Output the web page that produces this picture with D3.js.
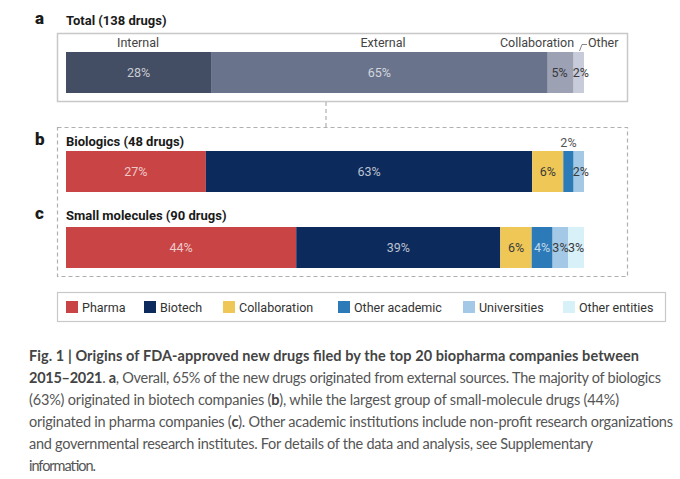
<!DOCTYPE html>
<html>

<head>
    <title>Origins of FDA-approved new drugs</title>
    <script src="https://cdnjs.cloudflare.com/ajax/libs/d3/7.8.5/d3.min.js"></script>
    <style>
        body { margin: 0; background: #fff; }
        svg text { font-family: Roboto, "Liberation Sans", sans-serif; }
        svg text.caption { font-family: Lato, sans-serif; fill: #555; font-size: 14.5px; }
    </style>
</head>

<body>
    <div id="chart"></div>
    <script>
        // Panel a: totals
        const totalCats = ["Internal", "External", "Collaboration", "Other"];
        const totalVals = [28, 65, 5, 2];
        const totalColors = ["#434d63", "#69748c", "#9ca1b4", "#c8cbd9"];

        // Panels b & c: source breakdown
        const sources = ["Pharma", "Biotech", "Collaboration", "Other academic", "Universities", "Other entities"];
        const sourceColors = ["#c94545", "#0d2a5c", "#efc757", "#2d7ab8", "#a3c9e6", "#d8f0f8"];
        const biologicsVals = [27, 63, 6, 2, 2, 0];
        const smallMolVals = [44, 39, 6, 4, 3, 3];

        const panelTitles = ["Total (138 drugs)", "Biologics (48 drugs)", "Small molecules (90 drugs)"];
        const panelLetters = ["a", "b", "c"];

        const captionLines = [
            [["Fig. 1 | Origins of FDA-approved new drugs filed by the top 20 biopharma companies between", true]],
            [["2015–2021", true], [". ", false], ["a", true], [", Overall, 65% of the new drugs originated from external sources. The majority of biologics", false]],
            [["(63%) originated in biotech companies (", false], ["b", true], ["), while the largest group of small-molecule drugs (44%)", false]],
            [["originated in pharma companies (", false], ["c", true], ["). Other academic institutions include non-profit research organizations", false]],
            [["and governmental research institutes. For details of the data and analysis, see Supplementary", false]],
            [["information.", false]]
        ];
        // right edge of each caption line in the reference
        const captionEnds = [639, 661, 619, 673, 593, 96];

        const W = 680, H = 479;
        const svg = d3.select("#chart").append("svg")
            .attr("width", W)
            .attr("height", H);

        const barX0 = 66, barX1 = 584, barH = 41;
        const darkText = "#3a3a3a";

        // Boxes
        svg.append("rect")
            .attr("x", 57.5).attr("y", 33.5).attr("width", 570).attr("height", 68)
            .attr("fill", "none").attr("stroke", "#c8c8c8").attr("stroke-width", 1.5);
        svg.append("rect")
            .attr("x", 57.5).attr("y", 127.5).attr("width", 570).attr("height", 149)
            .attr("fill", "none").attr("stroke", "#b0b0b0").attr("stroke-width", 1.2)
            .attr("stroke-dasharray", "4,3");
        svg.append("line")
            .attr("x1", 326).attr("x2", 326).attr("y1", 102).attr("y2", 127)
            .attr("stroke", "#b0b0b0").attr("stroke-width", 1.2).attr("stroke-dasharray", "4,3");

        // Panel letters and titles
        const titleY = [25, 146, 220];
        panelLetters.forEach((l, i) => {
            svg.append("text").attr("x", 35).attr("y", titleY[i] - 1)
                .attr("font-size", 17).attr("font-weight", 900).attr("fill", "#1a1a1a").text(l);
            svg.append("text").attr("x", 66).attr("y", titleY[i])
                .attr("font-size", 13).attr("font-weight", 700).attr("fill", "#1a1a1a").text(panelTitles[i]);
        });

        // labelFill null = no label inside the segment
        function drawBar(vals, colors, y, labelFill, labelDx) {
            const x = d3.scaleLinear().domain([0, d3.sum(vals)]).range([barX0, barX1]);
            const starts = d3.cumsum([0].concat(vals));
            const segs = vals.map((v, i) => ({ v, i, s: starts[i], e: starts[i] + v }))
                .filter(d => d.v > 0);
            const g = svg.append("g");
            g.selectAll("rect").data(segs).enter().append("rect")
                .attr("x", d => x(d.s))
                .attr("y", y)
                .attr("width", d => x(d.e) - x(d.s))
                .attr("height", barH)
                .attr("fill", d => colors[d.i]);
            g.selectAll("text").data(segs.filter(d => labelFill[d.i])).enter().append("text")
                .attr("x", d => (x(d.s) + x(d.e)) / 2 + (labelDx[d.i] || 0))
                .attr("y", y + barH / 2 + 4.5)
                .attr("text-anchor", "middle")
                .attr("font-size", 12.5)
                .attr("fill", d => labelFill[d.i])
                .attr("fill-opacity", d => labelFill[d.i] === "#fff" ? 0.72 : 1)
                .text(d => d.v + "%");
            return { x, starts, g };
        }

        // Panel a
        drawBar(totalVals, totalColors, 52, ["#fff", "#fff", darkText, darkText], [0, 0, -1, 2]);
        const catX = [138, 383, 537];
        totalCats.slice(0, 3).forEach((c, i) => {
            svg.append("text").attr("x", catX[i]).attr("y", 47)
                .attr("text-anchor", "middle").attr("font-size", 12.5).attr("fill", "#444").text(c);
        });
        svg.append("path")
            .attr("d", "M579.5,51 L582,44.5 L587,44.5")
            .attr("fill", "none").attr("stroke", "#777").attr("stroke-width", 0.9);
        svg.append("text").attr("x", 588).attr("y", 47)
            .attr("font-size", 12.5).attr("fill", "#444").text(totalCats[3]);

        // Panel b
        const b = drawBar(biologicsVals, sourceColors, 151,
            ["#fff", "#fff", darkText, null, darkText, darkText], [0, 0, 0, 0, 2, 0]);
        // Other academic label sits above the bar
        svg.append("text")
            .attr("x", (b.x(b.starts[3]) + b.x(b.starts[4])) / 2)
            .attr("y", 147).attr("text-anchor", "middle")
            .attr("font-size", 12.5).attr("fill", "#555").text(biologicsVals[3] + "%");

        // Panel c
        drawBar(smallMolVals, sourceColors, 227,
            ["#fff", "#fff", darkText, "#fff", darkText, darkText], [0, 0, 0, 0, 0, 0]);

        // Legend
        svg.append("rect")
            .attr("x", 57.5).attr("y", 292.5).attr("width", 608).attr("height", 29)
            .attr("fill", "none").attr("stroke", "#c8c8c8").attr("stroke-width", 1.2);
        const legX = [66, 144, 223, 338, 463, 563];
        const leg = svg.selectAll(".leg").data(sources).enter().append("g")
            .attr("transform", (d, i) => `translate(${legX[i]},301)`);
        leg.append("rect").attr("width", 12).attr("height", 12)
            .attr("fill", (d, i) => sourceColors[i]);
        leg.append("text").attr("x", 16).attr("y", 11)
            .attr("font-size", 12.5).attr("fill", "#333").text(d => d);

        // Caption, one text per line, fitted to the reference line widths
        captionLines.forEach((line, li) => {
            const t = svg.append("text").attr("class", "caption")
                .attr("x", 29).attr("y", 361 + li * 21.9)
                .attr("textLength", captionEnds[li] - 29)
                .attr("lengthAdjust", "spacing");
            line.forEach(part => {
                t.append("tspan")
                    .attr("font-weight", part[1] ? 700 : 400)
                    .attr("fill", part[1] ? "#444" : "#555")
                    .text(part[0]);
            });
        });
    </script>
</body>

</html>
